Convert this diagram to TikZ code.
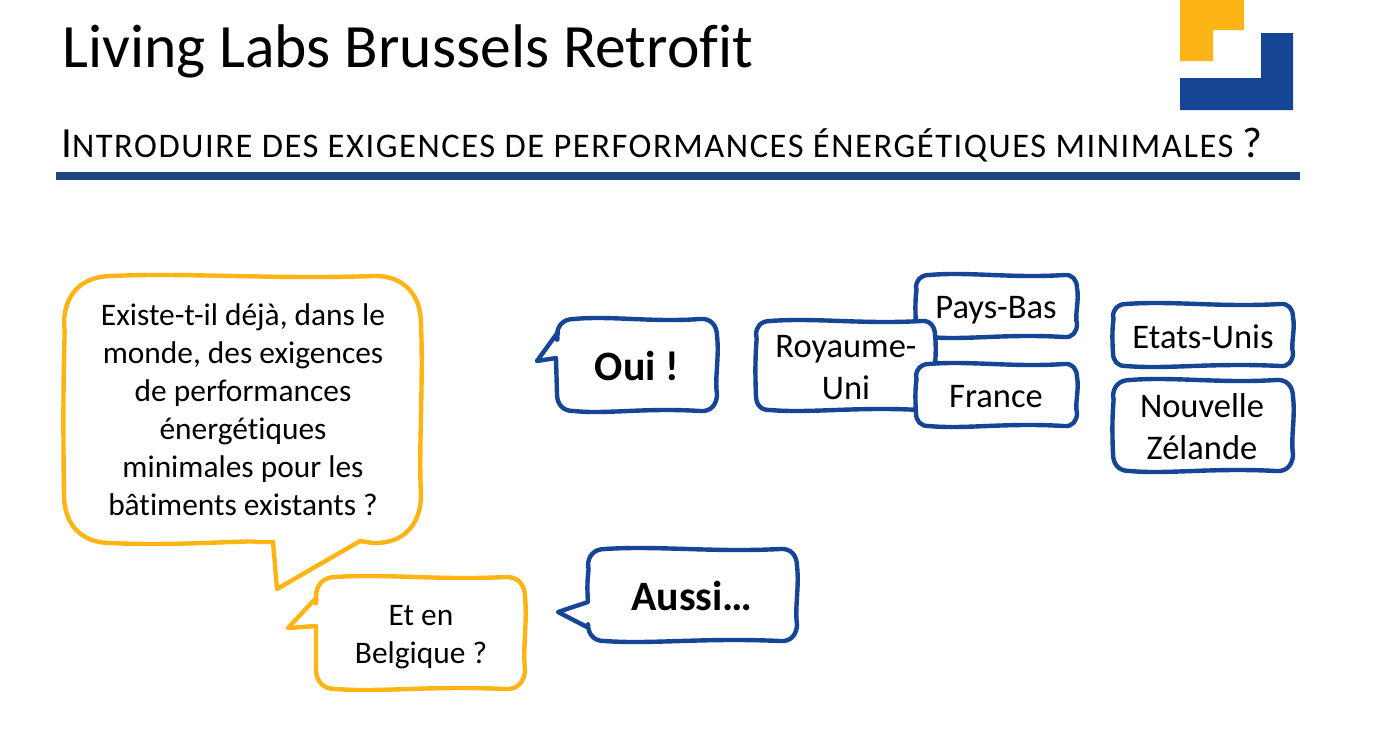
\documentclass[tikz,border=0pt]{standalone}
\usepackage{fontspec}
\setmainfont[Ligatures=NoCommon]{Carlito}
\definecolor{gold}{HTML}{FDB515}
\definecolor{royal}{HTML}{174596}
\definecolor{rulecol}{HTML}{1F497D}
\tikzset{
  goldline/.style={draw=gold,line width=4.4pt,fill=white,line join=round},
  blueline/.style={draw=royal,line width=4.4pt,fill=white,line join=round},
  title/.style={anchor=base west,inner sep=0pt,font=\fontsize{61.6}{64}\selectfont},
  body/.style={align=center,inner sep=0pt,font=\fontsize{31.4}{38}\selectfont},
  country/.style={align=center,inner sep=0pt,font=\fontsize{34.5}{42}\selectfont},
  strongtxt/.style={inner sep=0pt,font=\fontsize{41.8}{44}\selectfont\bfseries},
}
% style, x1, y1, x2, y2, radius, left-edge insert, bottom-edge insert
\newcommand{\wbub}[8]{%
  \draw[#1] ({#2+#6},#3)
   .. controls ({#2+(#4-#2)*.33},{#3-3.5}) and ({#2+(#4-#2)*.6},{#3+3.5}) .. ({#4-#6},#3)
   .. controls ({#4-#6*.35},{#3-1}) and (#4,{#3+#6*.4}) .. (#4,{#3+#6})
   .. controls ({#4+2.5},{#3+(#5-#3)*.4}) and ({#4-2.5},{#3+(#5-#3)*.65}) .. (#4,{#5-#6})
   .. controls (#4,{#5-#6*.4}) and ({#4-#6*.35},{#5+1}) .. ({#4-#6},#5)
   #8
   .. controls ({#2+(#4-#2)*.55},{#5-3.5}) and ({#2+(#4-#2)*.3},{#5+3.5}) .. ({#2+#6},#5)
   .. controls ({#2+#6*.35},{#5+.5}) and (#2,{#5-#6*.4}) .. (#2,{#5-#6})
   #7
   .. controls ({#2-2},{#3+(#5-#3)*.3}) and ({#2+2},{#3+(#5-#3)*.2}) .. (#2,{#3+#6})
   .. controls (#2,{#3+#6*.4}) and ({#2+#6*.35},#3) .. ({#2+#6},#3) -- cycle;}
\begin{document}
\begin{tikzpicture}[x=1pt,y=-1pt]
\useasboundingbox (0,0) rectangle (1379,753);
\fill[white] (0,0) rectangle (1379,753);
% logo
\fill[gold] (1180,0) -- (1244,0) -- (1244,30) -- (1213,30) -- (1213,61) -- (1180,61) -- cycle;
\fill[royal] (1261,33) -- (1293,33) -- (1293,110) -- (1180,110) -- (1180,78) -- (1261,78) -- cycle;
% heading
\node[title] (heading) at (62,67) {Living Labs Brussels Retrofit};
\node[anchor=base west,inner sep=0pt] (sub) at (61,157) {\fontsize{43}{46}\selectfont I\fontsize{34.5}{46}\selectfont\addfontfeature{LetterSpace=4.5}NTRODUIRE DES EXIGENCES DE PERFORMANCES ÉNERGÉTIQUES MINIMALES \fontsize{43}{46}\selectfont ?};
\fill[rulecol] (56,172) rectangle (1300,180);
% question bubbles
\wbub{goldline}{64}{276}{421}{543}{48}{}{-- (360,541) -- (277,589) -- (273,542) -- (255,542)}
\node[body] (q1) at (243,410) {Existe-t-il déjà, dans le\\monde, des exigences\\de performances\\énergétiques\\minimales pour les\\bâtiments existants ?};
\wbub{goldline}{316}{577}{525}{689}{20}{-- (316,626) -- (288,628) -- (316,598)}{}
\node[body] (q2) at (421,637) {Et en\\Belgique ?};
% answers
\wbub{blueline}{557}{319}{717}{411}{17}{-- (556,358) -- (537,361) -- (558,332)}{}
\node[strongtxt] (oui) at (637,366) {Oui !};
\wbub{blueline}{588}{549}{797}{641}{17}{-- (587,627) -- (558,612) -- (588,602)}{}
\node[strongtxt] (aussi) at (692,596) {Aussi…};
% countries
\wbub{blueline}{916}{275}{1077}{337}{13}{}{}
\node[country] (pb) at (996,310) {Pays-Bas};
\wbub{blueline}{756}{321}{935}{410}{14}{}{}
\node[country] (uk) at (846,368) {Royaume-\\Uni};
\wbub{blueline}{916}{364}{1077}{426}{13}{}{}
\node[country] (fr) at (996,397) {France};
\wbub{blueline}{1113}{304}{1293}{366}{13}{}{}
\node[country] (us) at (1203,337) {Etats-Unis};
\wbub{blueline}{1113}{380}{1293}{471}{17}{}{}
\node[country] (nz) at (1202,427) {Nouvelle\\Zélande};
\end{tikzpicture}
\end{document}
